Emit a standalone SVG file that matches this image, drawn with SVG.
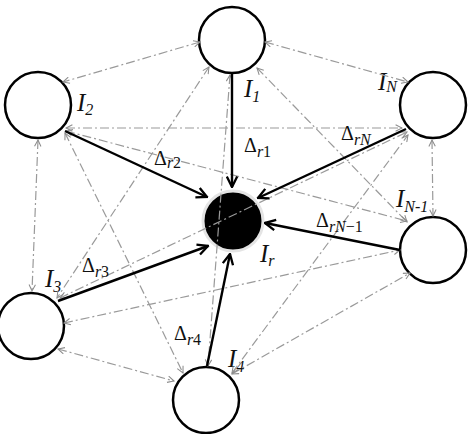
<svg xmlns="http://www.w3.org/2000/svg" width="471" height="434" viewBox="0 0 471 434">
<style>
.node{fill:#fff;stroke:#000;stroke-width:2.5}
.dd{fill:none;stroke:#9a9a9a;stroke-width:1.2;stroke-dasharray:9 3 2 3;marker-start:url(#ag);marker-end:url(#ag)}
.sol{fill:none;stroke:#000;stroke-width:2.4;marker-end:url(#ab)}
.lab{font-family:"Liberation Serif",serif;font-style:italic;font-size:25px;fill:#111}
.sub{font-size:16px}
.dl{font-family:"Liberation Serif",serif;font-size:20px;fill:#111}
.it{font-style:italic}
</style>
<defs>
<marker id="ag" viewBox="0 0 10 10" refX="9" refY="5" markerWidth="8" markerHeight="8" markerUnits="userSpaceOnUse" orient="auto-start-reverse">
<path d="M1,1 L9,5 L1,9" fill="none" stroke="#8c8c8c" stroke-width="1.3"/>
</marker>
<marker id="ab" viewBox="0 0 10 10" refX="9" refY="5" markerWidth="13" markerHeight="13" markerUnits="userSpaceOnUse" orient="auto">
<path d="M1,1 L9,5 L1,9" fill="none" stroke="#000" stroke-width="1.8"/>
</marker>
</defs>
<g id="node-Ir">
<circle cx="233" cy="221" r="30" fill="#000" stroke="#e4e4e4" stroke-width="3"/>
<text class="lab" x="260" y="262">I<tspan class="sub" dy="4">r</tspan></text>
</g>
<g id="node-I1">
<circle class="node" cx="232" cy="40" r="33"/>
<text class="lab" x="244" y="97">I<tspan class="sub" dy="5">1</tspan></text>
</g>
<g id="node-I2">
<circle class="node" cx="38" cy="105" r="33"/>
<text class="lab" x="77" y="111">I<tspan class="sub" dy="4">2</tspan></text>
</g>
<g id="node-IN">
<circle class="node" cx="433" cy="105" r="33"/>
<text class="lab" x="378" y="90">I<tspan class="sub" dy="2">N</tspan></text>
</g>
<g id="node-IN-1">
<circle class="node" cx="433" cy="250" r="33"/>
<text class="lab" x="396" y="207">I<tspan class="sub" dy="5">N-1</tspan></text>
</g>
<g id="node-I3">
<circle class="node" cx="31" cy="326" r="33"/>
<text class="lab" x="45" y="287">I<tspan class="sub" dy="5">3</tspan></text>
</g>
<g id="node-I4">
<circle class="node" cx="206" cy="400" r="33"/>
<text class="lab" x="228" y="367">I<tspan class="sub" dy="5">4</tspan></text>
</g>
<g id="connectors">
<line class="dd" x1="200" y1="42" x2="63" y2="82"/>
<line class="dd" x1="265" y1="42" x2="408" y2="82"/>
<line class="dd" x1="38" y1="140" x2="32" y2="291"/>
<line class="dd" x1="432" y1="140" x2="433" y2="216"/>
<line class="dd" x1="58" y1="349" x2="174" y2="381"/>
<line class="dd" x1="232" y1="374" x2="410" y2="273"/>
<line class="dd" x1="66" y1="128" x2="402" y2="128"/>
<line class="dd" x1="209" y1="67" x2="57" y2="298"/>
<line class="dd" x1="230" y1="75" x2="208" y2="366"/>
<line class="dd" x1="257" y1="68" x2="407" y2="222"/>
<line class="dd" x1="65" y1="133" x2="183" y2="373"/>
<line class="dd" x1="66" y1="131" x2="407" y2="221"/>
<line class="dd" x1="64" y1="323" x2="400" y2="250"/>
<line class="dd" x1="60" y1="298" x2="407" y2="132"/>
<line class="dd" x1="232" y1="373" x2="408" y2="135"/>
<line class="sol" x1="232" y1="74" x2="232" y2="187"/>
<line class="sol" x1="65" y1="131" x2="207" y2="197"/>
<line class="sol" x1="406" y1="129" x2="258" y2="198"/>
<line class="sol" x1="400" y1="250" x2="265" y2="223"/>
<line class="sol" x1="58" y1="301" x2="208" y2="246"/>
<line class="sol" x1="207" y1="366" x2="230" y2="254"/>
<text class="dl" x="244" y="152">Δ<tspan class="sub" dy="5"><tspan class="it">r</tspan>1</tspan></text>
<text class="dl" x="154" y="165">Δ<tspan class="sub" dy="3"><tspan class="it">r</tspan>2</tspan></text>
<text class="dl" x="341" y="140">Δ<tspan class="sub it" dy="5">rN</tspan></text>
<text class="dl" x="316" y="227">Δ<tspan class="sub" dy="5"><tspan class="it">rN</tspan>−1</tspan></text>
<text class="dl" x="82" y="272">Δ<tspan class="sub" dy="5"><tspan class="it">r</tspan>3</tspan></text>
<text class="dl" x="174" y="340">Δ<tspan class="sub" dy="5"><tspan class="it">r</tspan>4</tspan></text>
</g>
</svg>
